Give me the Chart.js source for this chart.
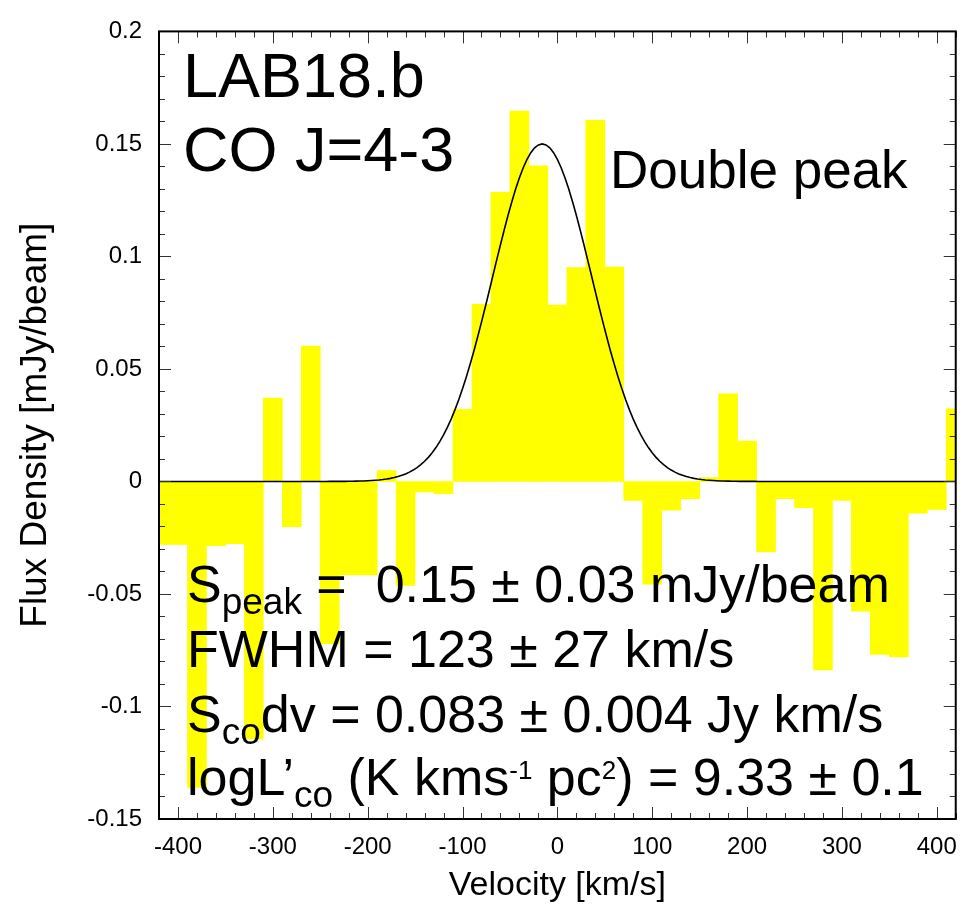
<!DOCTYPE html>
<html>
<head>
<meta charset="utf-8">
<title>LAB18.b CO J=4-3</title>
<script src="https://cdn.jsdelivr.net/npm/chart.js@4.4.1/dist/chart.umd.min.js"></script>
<style>
  html, body { margin: 0; padding: 0; background: #fff; }
  #wrap { width: 971px; height: 923px; }
</style>
</head>
<body>
<div id="wrap"><canvas id="specChart" width="971" height="923"></canvas></div>
<script>
// channel centres in km/s (20 km/s channels)
const velocityBins = [-420, -400, -380, -360, -340, -320, -300, -280, -260, -240, -220,
  -200, -180, -160, -140, -120, -100, -80, -60, -40, -20, 0, 20, 40, 60, 80, 100,
  120, 140, 160, 180, 200, 220, 240, 260, 280, 300, 320, 340, 360, 380, 400, 420];

// flux density per channel, mJy/beam
const fluxValues = [-0.028, -0.028, -0.136, -0.0285, -0.0277, -0.1144, 0.0371, -0.0201, 0.0602, -0.0721, -0.0415,
  -0.0415, 0.0048, -0.0462, -0.0047, -0.0054, 0.032, 0.0787, 0.1285, 0.1646, 0.1403, 0.0784, 0.095, 0.1605, 0.0953, -0.0084, -0.0456,
  -0.0128, -0.0077, 0.0017, 0.0389, 0.0179, -0.0313, -0.0076, -0.0117, -0.0838, -0.0084, -0.0576, -0.0769, -0.078, -0.0141, -0.0124, 0.0323];

// single gaussian fit
const fitPeak = 0.15;
const fitCentre = -16;
const fitFwhm = 123;

const xTickValues = [-400, -300, -200, -100, 0, 100, 200, 300, 400];
const xTickLabels = ['-400', '-300', '-200', '-100', '0', '100', '200', '300', '400'];
const yTickValues = [-0.15, -0.1, -0.05, 0, 0.05, 0.1, 0.15, 0.2];
const yTickLabels = ['-0.15', '-0.1', '-0.05', '0', '0.05', '0.1', '0.15', '0.2'];

const FONT = "'Liberation Sans', Arial, Helvetica, sans-serif";

// fitted profile, sampled every 4 km/s
const sigma = fitFwhm / (2 * Math.sqrt(2 * Math.log(2)));
const fitCurve = [];
for (let v = -420; v <= 420; v += 4) {
    fitCurve.push({ x: v, y: fitPeak * Math.exp(-0.5 * Math.pow((v - fitCentre) / sigma, 2)) });
}

const spectrum = velocityBins.map((v, i) => ({ x: v, y: fluxValues[i] }));

// draws a line of text made of runs (normal / sub / superscript)
function drawRuns(ctx, x, y, runs) {
    runs.forEach(r => {
        ctx.font = r.size + 'px ' + FONT;
        ctx.fillText(r.t, x, y + (r.dy || 0));
        x += ctx.measureText(r.t).width;
    });
}

const framePlugin = {
    id: 'frameTicks',
    afterDatasetsDraw(chart) {
        const { ctx, chartArea: a } = chart;
        const xs = chart.scales.x, ys = chart.scales.y;
        ctx.save();

        // inward tick marks on all four sides
        ctx.strokeStyle = '#333';
        ctx.lineWidth = 1;
        ctx.beginPath();
        for (let v = -420; v <= 420; v += 20) {
            const px = Math.round(xs.getPixelForValue(v)) + 0.5;
            const len = (v % 100 === 0) ? 12 : 6;
            ctx.moveTo(px, a.bottom); ctx.lineTo(px, a.bottom - len);
            ctx.moveTo(px, a.top); ctx.lineTo(px, a.top + len);
        }
        for (let k = -15; k <= 20; k++) {
            const py = Math.round(ys.getPixelForValue(k / 100)) + 0.5;
            const len = (k % 5 === 0) ? 12 : 6;
            ctx.moveTo(a.left, py); ctx.lineTo(a.left + len, py);
            ctx.moveTo(a.right, py); ctx.lineTo(a.right - len, py);
        }
        ctx.stroke();

        // plot frame
        ctx.strokeStyle = '#000';
        ctx.lineWidth = 2;
        ctx.strokeRect(a.left, a.top, a.right - a.left, a.bottom - a.top);

        // annotations
        ctx.fillStyle = '#000';
        ctx.textAlign = 'left';
        ctx.textBaseline = 'alphabetic';
        drawRuns(ctx, 183, 97, [{ t: 'LAB18.b', size: 63 }]);
        drawRuns(ctx, 183, 171, [{ t: 'CO J=4-3', size: 63 }]);
        drawRuns(ctx, 610, 188, [{ t: 'Double peak', size: 53 }]);

        drawRuns(ctx, 187, 602, [
            { t: 'S', size: 52 }, { t: 'peak', size: 37, dy: 12 },
            { t: ' =  0.15 \u00b1 0.03 mJy/beam', size: 52 }]);
        drawRuns(ctx, 187, 667, [{ t: 'FWHM = 123 \u00b1 27 km/s', size: 52 }]);
        drawRuns(ctx, 187, 732, [
            { t: 'S', size: 52 }, { t: 'co', size: 37, dy: 12 },
            { t: 'dv = 0.083 \u00b1 0.004 Jy km/s', size: 52 }]);
        drawRuns(ctx, 187, 795, [
            { t: 'logL\u2019', size: 52 }, { t: 'co', size: 37, dy: 12 },
            { t: ' (K kms', size: 52 }, { t: '-1', size: 26, dy: -16 },
            { t: ' pc', size: 52 }, { t: '2', size: 26, dy: -16 },
            { t: ') = 9.33 \u00b1 0.1', size: 52 }]);
        ctx.restore();
    }
};

const ctx = document.getElementById('specChart').getContext('2d');
const chart = new Chart(ctx, {
    type: 'bar',
    data: {
        datasets: [
            {
                type: 'line',
                label: 'Gaussian fit',
                data: fitCurve,
                borderColor: '#000',
                borderWidth: 1.6,
                pointRadius: 0,
                tension: 0,
                fill: false,
                order: 0
            },
            {
                type: 'bar',
                label: 'CO J=4-3',
                data: spectrum,
                backgroundColor: '#ffff00',
                borderWidth: 0,
                barPercentage: 1.0,
                categoryPercentage: 1.0,
                order: 1
            }
        ]
    },
    options: {
        responsive: false,
        animation: false,
        layout: { padding: { top: 17, right: 9, left: 0, bottom: 0 } },
        plugins: {
            legend: { display: false },
            tooltip: { enabled: false }
        },
        scales: {
            x: {
                type: 'linear',
                min: -420,
                max: 420,
                offset: false,
                grid: { display: false, drawTicks: false, offset: false },
                border: { display: false },
                afterBuildTicks: s => { s.ticks = xTickValues.map(v => ({ value: v })); },
                afterFit: s => { s.height = 104; },
                ticks: {
                    autoSkip: false,
                    maxRotation: 0,
                    padding: 14,
                    color: '#000',
                    font: { family: FONT, size: 24 },
                    callback: (v, i) => xTickLabels[i]
                },
                title: {
                    display: true,
                    text: 'Velocity [km/s]',
                    color: '#000',
                    font: { family: FONT, size: 34 },
                    padding: { top: 0, bottom: 17 }
                }
            },
            y: {
                min: -0.15,
                max: 0.2,
                grid: { display: false, drawTicks: false },
                border: { display: false },
                afterBuildTicks: s => { s.ticks = yTickValues.map(v => ({ value: v })); },
                afterFit: s => { s.width = 159; },
                ticks: {
                    autoSkip: false,
                    padding: 17,
                    color: '#000',
                    font: { family: FONT, size: 24 },
                    callback: (v, i) => yTickLabels[i]
                },
                title: {
                    display: true,
                    text: 'Flux Density [mJy/beam]',
                    color: '#000',
                    font: { family: FONT, size: 37 },
                    padding: { top: 14, bottom: 0 }
                }
            }
        }
    },
    plugins: [framePlugin]
});
</script>
</body>
</html>
